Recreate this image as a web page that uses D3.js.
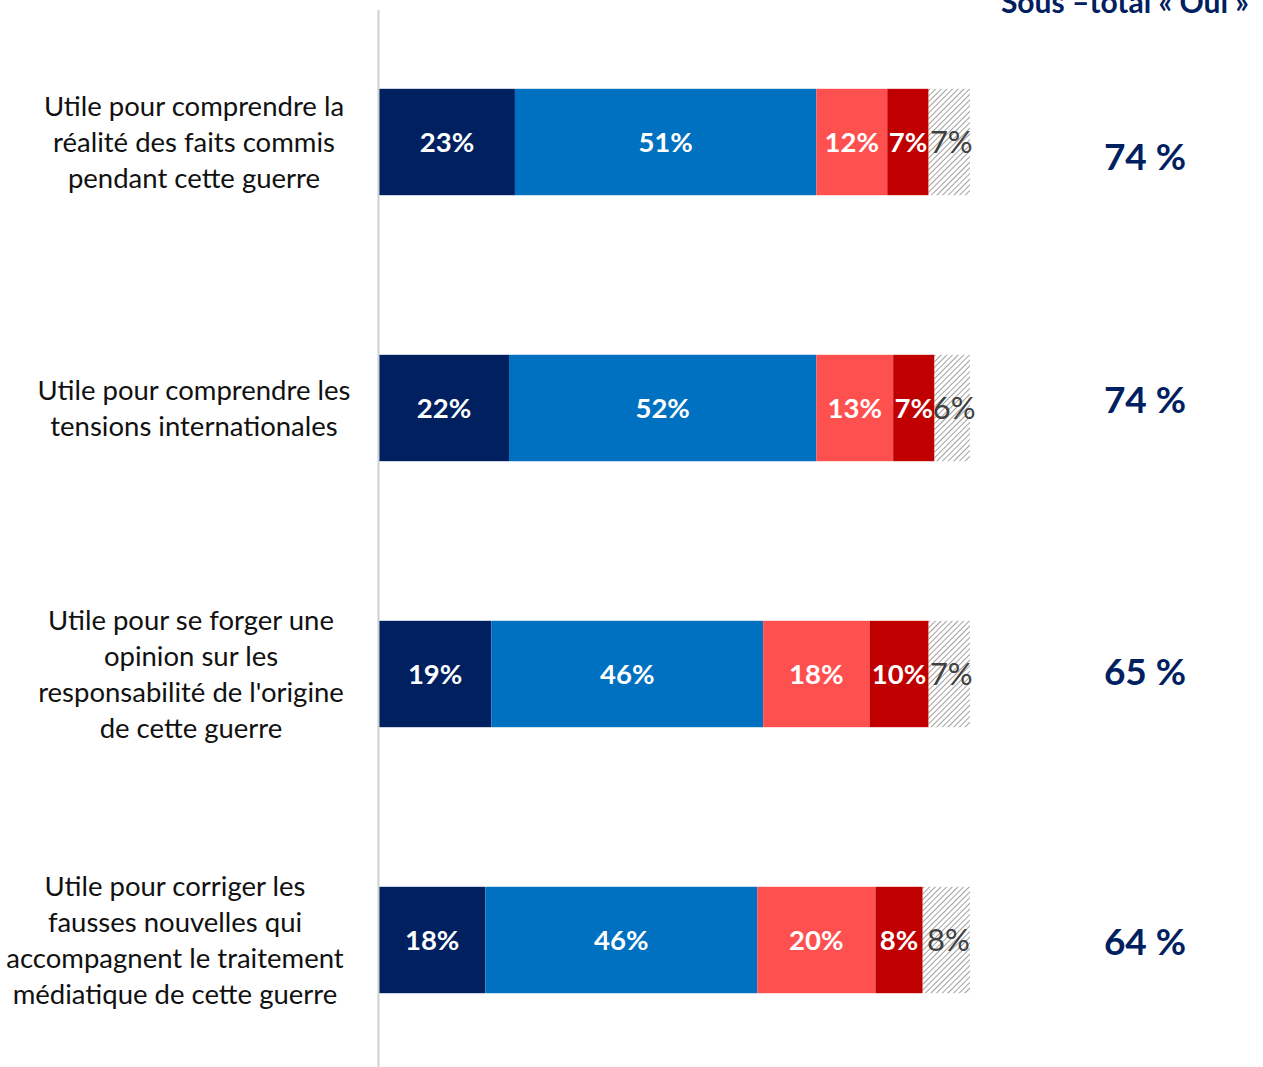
<!DOCTYPE html>
<html><head><meta charset="utf-8">
<script src="https://cdn.jsdelivr.net/npm/d3@7"></script>
<style>body{margin:0;background:#fff}svg{display:block}</style>
</head><body>
<script>
const categories = [
  ["Utile pour comprendre la","réalité des faits commis","pendant cette guerre"],
  ["Utile pour comprendre les","tensions internationales"],
  ["Utile pour se forger une","opinion sur les","responsabilité de l'origine","de cette guerre"],
  ["Utile pour corriger les","fausses nouvelles qui","accompagnent le traitement","médiatique de cette guerre"]
];
const seriesKeys = ["ouiTout","ouiPlutot","nonPlutot","nonPas","nsp"];
const ouiToutAFait = [23,22,19,18];
const ouiPlutot = [51,52,46,46];
const nonPlutotPas = [12,13,18,20];
const nonPasDuTout = [7,7,10,8];
const nspp = [7,6,7,8];
const subtotals = ["74 %","74 %","65 %","64 %"];
const headerText = "Sous –total « Oui »";
const colors = ["#002060","#0070C0","#FF5050","#C00000","url(#hatch)"];

const W=1263,H=1067;
const svg=d3.select("body").append("svg").attr("width",W).attr("height",H);
const defs=svg.append("defs");
const pat=defs.append("pattern").attr("id","hatch").attr("patternUnits","userSpaceOnUse")
  .attr("width",4).attr("height",4).attr("patternTransform","rotate(45)");
pat.append("rect").attr("width",4).attr("height",4).attr("fill","#fff");
pat.append("line").attr("x1",0).attr("y1",0).attr("x2",0).attr("y2",4).attr("stroke","#808080").attr("stroke-width",1.5);

const data = categories.map((c,i)=>({i, ouiTout:ouiToutAFait[i], ouiPlutot:ouiPlutot[i], nonPlutot:nonPlutotPas[i], nonPas:nonPasDuTout[i], nsp:nspp[i]}));
const stack=d3.stack().keys(seriesKeys)(data);

const x=d3.scaleLinear().domain([0,100]).range([379,970]);
const y=d3.scaleBand().domain(d3.range(categories.length)).range([9,1073]).paddingInner(0.6).paddingOuter(0.3);

const font="Lato, 'Open Sans', sans-serif";
stack.forEach((s,k)=>{
  const g=svg.append("g");
  g.selectAll("rect").data(s).join("rect")
    .attr("x",d=>x(d[0])).attr("y",d=>y(d.data.i))
    .attr("width",d=>x(d[1])-x(d[0])).attr("height",y.bandwidth())
    .attr("fill",colors[k]);
  g.selectAll("text").data(s).join("text")
    .attr("x",d=>(x(d[0])+x(d[1]))/2+(k===4?2:0)).attr("y",d=>y(d.data.i)+y.bandwidth()/2)
    .attr("dy","0.36em").attr("text-anchor","middle")
    .attr("font-family",font).attr("font-size",k===4?31:27.5)
    .attr("font-weight",k===4?"normal":"bold")
    .attr("fill",k===4?"#404040":"#fff")
    .text(d=>(d[1]-d[0])+"%");
});

// axis line
svg.append("line").attr("x1",378.5).attr("x2",378.5).attr("y1",10).attr("y2",H).attr("stroke","#d0d0d0").attr("stroke-width",2);

// category labels
categories.forEach((lines,i)=>{
  const cy=y(i)+y.bandwidth()/2;
  const cx = i===3?175:(i===2?191:194);
  const t=svg.append("text").attr("text-anchor","middle").attr("font-family",font).attr("font-size",27.5).attr("fill","#111");
  lines.forEach((l,j)=>{
    t.append("tspan").attr("x",cx).attr("y",cy+(j-(lines.length-1)/2)*36).attr("dy","0.35em").text(l);
  });
});

// subtotals
const subOffsets=[15,-8,-2,2];
subtotals.forEach((s,i)=>{
  svg.append("text").attr("x",1145).attr("y",y(i)+y.bandwidth()/2+subOffsets[i])
    .attr("dy","0.35em").attr("text-anchor","middle").attr("font-family",font)
    .attr("font-size",37).attr("font-weight","bold").attr("fill","#002060").text(s);
});
svg.append("text").attr("x",1249).attr("y",13).attr("text-anchor","end")
  .attr("font-family",font).attr("font-size",30).attr("font-weight","bold").attr("fill","#002060").text(headerText);
</script>
</body></html>
